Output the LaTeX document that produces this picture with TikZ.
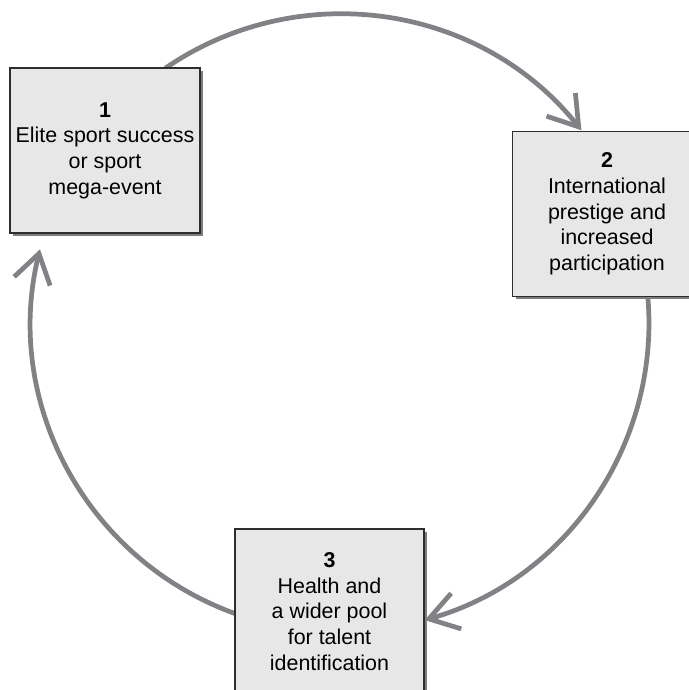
\documentclass[tikz,border=0pt]{standalone}
\usepackage{fontspec}
\setmainfont{Liberation Sans}
\usetikzlibrary{arrows.meta,shadows}

\definecolor{boxfill}{RGB}{230,231,230}
\definecolor{boxline}{RGB}{45,45,45}
\definecolor{boxshadow}{RGB}{125,125,128}
\definecolor{cyclegray}{RGB}{128,130,133}

\tikzset{
	stage/.style={draw=boxline, line width=0.8pt, fill=boxfill,
		minimum width=3.78cm, minimum height=3.3cm, align=center,
		font=\fontsize{12.2}{14.6}\selectfont,
		drop shadow={shadow xshift=0.06cm, shadow yshift=-0.06cm, fill=boxshadow, opacity=1}},
	cycle/.style={draw=cyclegray, line width=2.7pt,
		-{Straight Barb[length=5.7mm, width=7.4mm]}}
}

\begin{document}
\begin{tikzpicture}[x=0.02cm, y=0.02cm]

\def \radius {6.18cm}

\useasboundingbox (0,0) rectangle (689,690);

\coordinate (centre) at (340,367);

% the three arcs of the cycle, clockwise
\foreach \from/\to in {124.4/38.6, 5/-74.1, 250.1/166.2}
{
	\draw[cycle] (centre) ++(\from:\radius) arc (\from:\to:\radius);
}

\node[stage] (success) at (105,539.5) {\textbf{1}\\Elite sport success\\or sport\\mega-event};
\node[stage] (prestige) at (607,476) {\textbf{2}\\International\\prestige and\\increased\\participation};
\node[stage] (health) at (329.5,78.5) {\textbf{3}\\Health and\\a wider pool\\for talent\\identification};

\end{tikzpicture}
\end{document}
